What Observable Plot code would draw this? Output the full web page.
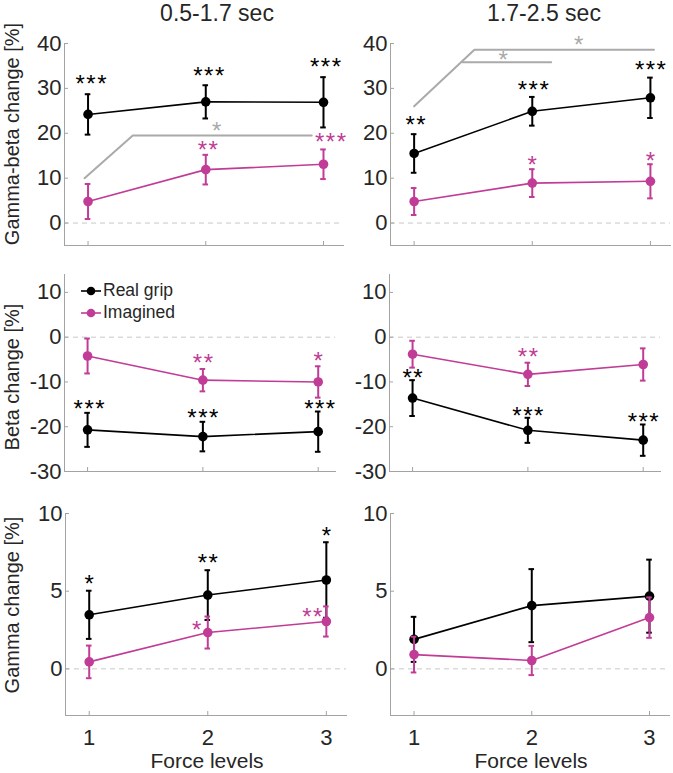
<!DOCTYPE html>
<html><head><meta charset="utf-8">
<script src="https://cdn.jsdelivr.net/npm/d3@7"></script>
<script src="https://cdn.jsdelivr.net/npm/@observablehq/plot@0.6"></script>
<style>
body{margin:0;background:#fff;font-family:"Liberation Sans",Arial,sans-serif;}
#chart{position:relative;width:673px;height:773px;overflow:hidden;background:#fff;}
#chart svg{position:absolute;overflow:visible;background:transparent;}
.lbl{position:absolute;color:#262626;white-space:nowrap;line-height:1;}
g[aria-label="text"] text{letter-spacing:1.5px;}
</style></head><body><div id="chart"></div>
<script>
// ---------- data ----------
const forceLevels = [1, 2, 3];
const seriesNames = ["Real grip", "Imagined"];
const windowTitles = ["0.5-1.7 sec", "1.7-2.5 sec"];
const measureLabels = ["Gamma-beta change [%]", "Beta change [%]", "Gamma change [%]"];
const xAxisLabel = "Force levels";
const zeroLine = [0];

const gbTicks = [0, 10, 20, 30, 40];
const bTicks = [-30, -20, -10, 0, 10];
const gTicks = [0, 5, 10];

// Gamma-beta, 0.5-1.7 sec
const gbEarlyReal = [24.2, 27.0, 26.9];
const gbEarlyRealErr = [4.5, 3.7, 5.6];
const gbEarlyImag = [4.8, 11.9, 13.1];
const gbEarlyImagErr = [3.9, 3.3, 3.3];
const gbEarlyRealStars = ["***", "***", "***"];
const gbEarlyImagStars = ["", "**", "***"];
// Gamma-beta, 1.7-2.5 sec
const gbLateReal = [15.5, 24.9, 27.9];
const gbLateRealErr = [4.3, 3.2, 4.5];
const gbLateImag = [4.8, 8.9, 9.3];
const gbLateImagErr = [3.0, 3.1, 3.8];
const gbLateRealStars = ["**", "***", "***"];
const gbLateImagStars = ["", "*", "*"];
// Beta, 0.5-1.7 sec
const bEarlyReal = [-20.7, -22.2, -21.1];
const bEarlyRealErr = [3.8, 3.3, 4.5];
const bEarlyImag = [-4.2, -9.6, -10.0];
const bEarlyImagErr = [3.9, 2.5, 3.5];
const bEarlyRealStars = ["***", "***", "***"];
const bEarlyImagStars = ["", "**", "*"];
// Beta, 1.7-2.5 sec
const bLateReal = [-13.6, -20.8, -23.0];
const bLateRealErr = [4.0, 2.8, 3.5];
const bLateImag = [-3.8, -8.3, -6.1];
const bLateImagErr = [3.0, 2.6, 3.6];
const bLateRealStars = ["**", "***", "***"];
const bLateImagStars = ["", "**", ""];
// Gamma, 0.5-1.7 sec
const gEarlyReal = [3.48, 4.75, 5.72];
const gEarlyRealErr = [1.55, 1.6, 2.43];
const gEarlyImag = [0.45, 2.34, 3.05];
const gEarlyImagErr = [1.05, 1.03, 0.97];
const gEarlyRealStars = ["*", "**", "*"];
const gEarlyImagStars = ["", "*", "**"];
// Gamma, 1.7-2.5 sec
const gLateReal = [1.9, 4.07, 4.68];
const gLateRealErr = [1.45, 2.35, 2.35];
const gLateImag = [0.92, 0.54, 3.3];
const gLateImagErr = [1.15, 0.94, 1.3];
const gLateRealStars = ["", "", ""];
const gLateImagStars = ["", "", ""];

// real vs imagined comparison brackets
const gbEarlySigX = [0.97, 1.38, 2.9];
const gbEarlySigY = [10, 19.5, 19.5];
const gbEarlySigStarX = [2.1];
const gbEarlySigStarY = [19.5];
const gbLateSigAX = [1.0, 1.51, 3.03];
const gbLateSigAY = [26, 38.6, 38.6];
const gbLateSigBX = [1.41, 2.16];
const gbLateSigBY = [35.8, 35.8];
const gbLateSigStarX = [2.4, 1.76];
const gbLateSigStarY = [38.6, 35.8];

// ---------- styles ----------
const colReal = "#000000";
const colImag = "#c03c96";
const axisGray = "#a3a3a3";
const textCol = "#262626";
const sigGray = "#aaaaaa";
const starSize = 24;
const starShift = 0.255 * starSize - 3;
const font = "'Liberation Sans', Arial, sans-serif";
const blank = () => "";
const plain = d => String(d);

function rows(xs, mean, err, stars) {
  return xs.map((x, i) => ({x, mean: mean[i], lo: mean[i] - err[i], hi: mean[i] + err[i], stars: stars[i]}));
}
function pts(xs, ys) { return xs.map((x, i) => ({x, y: ys[i]})); }

const panels = [
  {left: 0, top: 30, width: 350, height: 225, ml: 64, mr: 7, mt: 13, mb: 10, xd: [0.8, 3.17], yd: [-5, 40], ticks: gbTicks, showX: false,
   real: rows(forceLevels, gbEarlyReal, gbEarlyRealErr, gbEarlyRealStars), imag: rows(forceLevels, gbEarlyImag, gbEarlyImagErr, gbEarlyImagStars),
   realOff: [[3, -13], [3, -12], [2, -12.5]], imagOff: [null, [2, -7.3], [7, -10.7]],
   sigLines: [pts(gbEarlySigX, gbEarlySigY)], sigStars: pts(gbEarlySigStarX, gbEarlySigStarY), sigOff: [-7]},
  {left: 330, top: 30, width: 343, height: 225, ml: 60, mr: 3, mt: 13, mb: 10, xd: [0.8, 3.17], yd: [-5, 40], ticks: gbTicks, showX: false,
   real: rows(forceLevels, gbLateReal, gbLateRealErr, gbLateRealStars), imag: rows(forceLevels, gbLateImag, gbLateImagErr, gbLateImagStars),
   realOff: [[1.5, -12.3], [1, -10], [0, -10.6]], imagOff: [null, [0, -7.3], [0, -6]],
   sigLines: [pts(gbLateSigAX, gbLateSigAY), pts(gbLateSigBX, gbLateSigBY)], sigStars: pts(gbLateSigStarX, gbLateSigStarY), sigOff: [-7.6, -5.3]},
  {left: 0, top: 262, width: 350, height: 220, ml: 64, mr: 15, mt: 12, mb: 11, xd: [0.8, 3.15], yd: [-30, 14], ticks: bTicks, showX: false,
   real: rows(forceLevels, bEarlyReal, bEarlyRealErr, bEarlyRealStars), imag: rows(forceLevels, bEarlyImag, bEarlyImagErr, bEarlyImagStars),
   realOff: [[1.5, -6.3], [0, -6.7], [1.5, -5.7]], imagOff: [null, [0, -9], [0, -8.4]],
   sigLines: [], sigStars: [], sigOff: []},
  {left: 330, top: 262, width: 343, height: 220, ml: 59, mr: 13, mt: 12, mb: 11, xd: [0.8, 3.15], yd: [-30, 14], ticks: bTicks, showX: false,
   real: rows(forceLevels, bLateReal, bLateRealErr, bLateRealStars), imag: rows(forceLevels, bLateImag, bLateImagErr, bLateImagStars),
   realOff: [[0, -5], [0, -5], [0, -5.3]], imagOff: [null, [0, -8.3], null],
   sigLines: [], sigStars: [], sigOff: []},
  {left: 0, top: 500, width: 350, height: 250, ml: 65, mr: 4, mt: 13, mb: 35, xd: [0.8, 3.17], yd: [-3, 10], ticks: gTicks, showX: true,
   real: rows(forceLevels, gEarlyReal, gEarlyRealErr, gEarlyRealStars), imag: rows(forceLevels, gEarlyImag, gEarlyImagErr, gEarlyImagStars),
   realOff: [[0, -10], [0, -10], [0, -9]], imagOff: [null, [-11, 10.7], [-14, 8]],
   sigLines: [], sigStars: [], sigOff: []},
  {left: 330, top: 500, width: 343, height: 250, ml: 60, mr: 4, mt: 13, mb: 35, xd: [0.8, 3.17], yd: [-3, 10], ticks: gTicks, showX: true,
   real: rows(forceLevels, gLateReal, gLateRealErr, gLateRealStars), imag: rows(forceLevels, gLateImag, gLateImagErr, gLateImagStars),
   realOff: [null, null, null], imagOff: [null, null, null],
   sigLines: [], sigStars: [], sigOff: []}
];

function seriesMarks(data, color) {
  return [
    Plot.line(data, {x: "x", y: "mean", stroke: color, strokeWidth: 1.6}),
    Plot.ruleX(data, {x: "x", y1: "lo", y2: "hi", stroke: color, strokeWidth: 2}),
    Plot.ruleY(data, {y: "hi", x1: "x", x2: "x", insetLeft: -2.8, insetRight: -2.8, stroke: color, strokeWidth: 2}),
    Plot.ruleY(data, {y: "lo", x1: "x", x2: "x", insetLeft: -2.8, insetRight: -2.8, stroke: color, strokeWidth: 2}),
    Plot.dot(data, {x: "x", y: "mean", r: 4.8, fill: color, stroke: "none"})
  ];
}
function starMarks(data, offs, color) {
  const out = [];
  data.forEach((d, i) => {
    if (d.stars && offs[i]) out.push(Plot.text([d], {x: "x", y: "hi", text: "stars", fill: color, fontSize: starSize,
      dx: offs[i][0] + 0.75, dy: offs[i][1] + starShift}));
  });
  return out;
}

const chart = document.getElementById("chart");
panels.forEach(p => {
  const marks = [
    Plot.ruleY(zeroLine, {stroke: "#c8c8c8", strokeWidth: 1, strokeDasharray: "5,4"}),
    Plot.frame({anchor: "left", stroke: axisGray}),
    Plot.frame({anchor: "bottom", stroke: axisGray}),
    Plot.axisY({ticks: p.ticks, tickSize: -4, tickFormat: blank, stroke: axisGray, label: null}),
    Plot.axisY({ticks: p.ticks, tickSize: 0, tickPadding: 3, tickFormat: plain, fill: textCol, fontSize: 22, label: null}),
    Plot.axisX({ticks: forceLevels, tickSize: -4, tickFormat: blank, stroke: axisGray, label: null})
  ];
  if (p.showX) marks.push(Plot.axisX({ticks: forceLevels, tickSize: 0, tickPadding: 14, tickFormat: plain, fill: textCol, fontSize: 22, label: null}));
  p.sigLines.forEach(l => marks.push(Plot.line(l, {x: "x", y: "y", stroke: sigGray, strokeWidth: 2})));
  p.sigStars.forEach((s, i) => marks.push(Plot.text([s], {x: "x", y: "y", text: () => "*", fill: sigGray, fontSize: starSize, dy: p.sigOff[i] + starShift})));
  marks.push(...seriesMarks(p.real, colReal), ...seriesMarks(p.imag, colImag));
  marks.push(...starMarks(p.real, p.realOff, colReal), ...starMarks(p.imag, p.imagOff, colImag));
  const svg = Plot.plot({
    width: p.width, height: p.height,
    marginLeft: p.ml, marginRight: p.mr, marginTop: p.mt, marginBottom: p.mb,
    x: {type: "linear", domain: p.xd},
    y: {type: "linear", domain: p.yd},
    style: {fontFamily: font, fontSize: "22px", color: textCol, left: p.left + "px", top: p.top + "px", overflow: "visible", background: "transparent"},
    marks
  });
  chart.appendChild(svg);
});

function addLabel(text, css) {
  const d = document.createElement("div");
  d.className = "lbl"; d.textContent = text;
  Object.assign(d.style, css);
  chart.appendChild(d);
  return d;
}
// titles
addLabel(windowTitles[0], {left: "217px", top: "2px", fontSize: "23px", transform: "translateX(-50%)"});
addLabel(windowTitles[1], {left: "544px", top: "2px", fontSize: "23px", transform: "translateX(-50%)"});
// y labels
const yLabelCenters = [134, 377, 605];
measureLabels.forEach((t, i) => addLabel(t, {left: "12px", top: yLabelCenters[i] + "px", fontSize: "20px", transform: "translate(-50%,-50%) rotate(-90deg)"}));
// x labels
addLabel(xAxisLabel, {left: "207px", top: "750px", fontSize: "21px", transform: "translateX(-50%)"});
addLabel(xAxisLabel, {left: "531px", top: "750px", fontSize: "21px", transform: "translateX(-50%)"});

// legend
const legendColors = [colReal, colImag];
seriesNames.forEach((name, i) => {
  const item = document.createElement("div");
  item.style.cssText = `position:absolute;left:80px;top:${291 + i * 21.7 - 10}px;height:20px;display:flex;align-items:center;`;
  const sw = document.createElementNS("http://www.w3.org/2000/svg", "svg");
  sw.setAttribute("width", "22"); sw.setAttribute("height", "20");
  sw.style.cssText = "position:static;overflow:visible;";
  sw.innerHTML = `<line x1="1" x2="21" y1="10" y2="10" stroke="${legendColors[i]}" stroke-width="1.6"/><circle cx="11" cy="10" r="4.3" fill="${legendColors[i]}"/>`;
  const tx = document.createElement("span");
  tx.textContent = name;
  tx.style.cssText = `font-size:17.5px;color:${textCol};margin-left:1px;line-height:1;`;
  item.appendChild(sw); item.appendChild(tx);
  chart.appendChild(item);
});
</script></body></html>
